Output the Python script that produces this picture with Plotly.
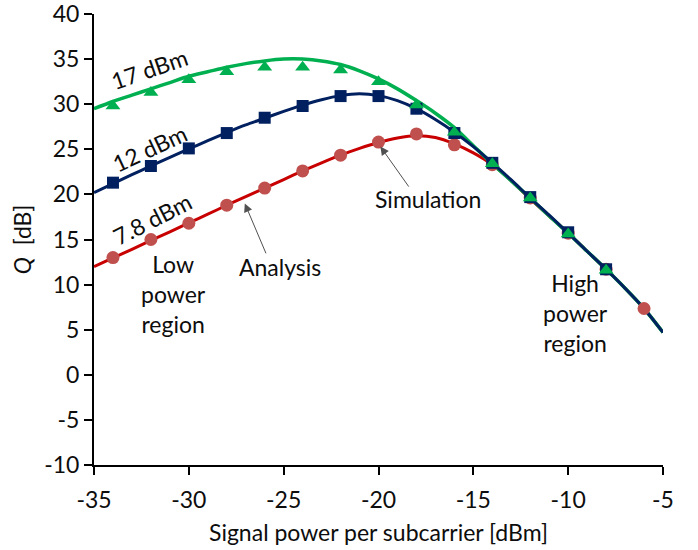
import plotly.graph_objects as go

# ---- data ----
x_analysis = [-35, -34, -33, -32, -31, -30, -29, -28, -27, -26, -25, -24, -23, -22, -21,
              -20, -19, -18, -17, -16, -15, -14, -13, -12, -11, -10, -9, -8, -7, -6, -5]
q_analysis_17 = [29.5, 30.3, 31.0, 31.7, 32.4, 33.1, 33.6, 34.1, 34.5, 34.8, 35.0, 35.0, 34.8, 34.4, 33.7,
                 32.8, 31.7, 30.4, 29.0, 27.4, 25.4, 23.4, 21.5, 19.6, 17.6, 15.7, 13.7, 11.7, 9.6, 7.35, 4.7]
q_analysis_12 = [20.2, 21.2, 22.2, 23.15, 24.1, 25.05, 25.95, 26.85, 27.7, 28.45, 29.2, 29.9, 30.5, 30.95, 31.15,
                 30.95, 30.4, 29.5, 28.3, 26.9, 25.3, 23.5, 21.6, 19.6, 17.7, 15.7, 13.7, 11.7, 9.6, 7.35, 4.7]
q_analysis_78 = [12.0, 12.95, 13.9, 14.9, 15.85, 16.85, 17.8, 18.8, 19.75, 20.7, 21.65, 22.6, 23.5, 24.35, 25.1,
                 25.75, 26.25, 26.5, 26.3, 25.6, 24.6, 23.3, 21.5, 19.5, 17.6, 15.7, 13.7, 11.7, 9.6, 7.35, 4.7]

x_sim = [-34, -32, -30, -28, -26, -24, -22, -20, -18, -16, -14, -12, -10, -8]
q_sim_17 = [29.8, 31.3, 32.7, 33.6, 34.1, 34.1, 33.8, 32.5, 29.9, 26.9, 23.4, 19.6, 15.6, 11.6]
q_sim_12 = [21.3, 23.15, 25.1, 26.8, 28.5, 29.8, 30.9, 30.9, 29.5, 26.8, 23.5, 19.7, 15.8, 11.7]
x_sim_78 = [-34, -32, -30, -28, -26, -24, -22, -20, -18, -16, -14, -12, -10, -8, -6]
q_sim_78 = [13.0, 15.0, 16.8, 18.8, 20.7, 22.6, 24.35, 25.8, 26.7, 25.5, 23.3, 19.6, 15.7, 11.7, 7.35]

x_ticks = [-35, -30, -25, -20, -15, -10, -5]
y_ticks = [-10, -5, 0, 5, 10, 15, 20, 25, 30, 35, 40]

GREEN = "#00B050"
NAVY = "#002060"
RED_LINE = "#C80000"
RED_MARK = "#C0504D"
FONT = "Lato"
TXT = "#0d0d0d"
FS = 23

fig = go.Figure()

# analysis curves
fig.add_trace(go.Scatter(x=x_analysis, y=q_analysis_78, mode="lines",
                         line=dict(color=RED_LINE, width=3, shape="spline", smoothing=0.8), showlegend=False))
fig.add_trace(go.Scatter(x=x_analysis, y=q_analysis_17, mode="lines",
                         line=dict(color=GREEN, width=3.5, shape="spline", smoothing=0.8), showlegend=False))
fig.add_trace(go.Scatter(x=x_analysis, y=q_analysis_12, mode="lines",
                         line=dict(color=NAVY, width=3, shape="spline", smoothing=0.8), showlegend=False))

# simulation markers
fig.add_trace(go.Scatter(x=x_sim_78, y=q_sim_78, mode="markers",
                         marker=dict(symbol="circle", size=13, color=RED_MARK), showlegend=False))
fig.add_trace(go.Scatter(x=x_sim, y=q_sim_12, mode="markers",
                         marker=dict(symbol="square", size=12, color=NAVY), showlegend=False))
fig.add_trace(go.Scatter(x=x_sim, y=q_sim_17, mode="markers",
                         marker=dict(symbol="triangle-up", size=13, color=GREEN), showlegend=False))

ann_font = dict(family=FONT, size=FS, color=TXT)
annotations = [
    dict(x=-32.1, y=33.9, text="17 dBm", textangle=-19, showarrow=False, font=ann_font),
    dict(x=-32.05, y=25.2, text="12 dBm", textangle=-25, showarrow=False, font=ann_font),
    dict(x=-31.95, y=17.3, text="7.8 dBm", textangle=-27, showarrow=False, font=ann_font),
    dict(x=-30.8, y=9.0, text="Low<br>power<br>region", showarrow=False, font=ann_font),
    dict(x=-9.6, y=6.8, text="High<br>power<br>region", showarrow=False, font=ann_font),
    dict(x=-25.2, y=12.0, text="Analysis", showarrow=False, font=ann_font),
    dict(x=-17.4, y=19.5, text="Simulation", showarrow=False, font=ann_font),
    # arrows
    dict(x=-27.05, y=19.0, ax=-25.9, ay=13.3, axref="x", ayref="y", text="",
         showarrow=True, arrowhead=2, arrowsize=1.7, arrowwidth=1, arrowcolor="#505050"),
    dict(x=-19.9, y=25.3, ax=-18.35, ay=20.7, axref="x", ayref="y", text="",
         showarrow=True, arrowhead=2, arrowsize=1.7, arrowwidth=1, arrowcolor="#505050"),
]

fig.update_layout(
    width=698, height=550,
    margin=dict(l=94, r=35, t=14, b=85, autoexpand=False),
    paper_bgcolor="white", plot_bgcolor="white",
    font=dict(family=FONT, size=FS, color=TXT),
    annotations=annotations,
    showlegend=False,
)
fig.update_xaxes(range=[-35, -5], tickvals=x_ticks, ticktext=[str(v) for v in x_ticks],
                 automargin=False,
                 showgrid=False, zeroline=False, showline=True, linecolor="black", linewidth=2,
                 ticks="outside", ticklen=8, tickwidth=2, tickcolor="black",
                 ticklabelstandoff=5, ticklabeloverflow="allow",
                 tickfont=dict(family=FONT, size=FS, color=TXT),
                 title=dict(text="Signal power per subcarrier [dBm]", standoff=13,
                            font=dict(family=FONT, size=FS, color=TXT)))
fig.update_yaxes(range=[-10, 40], tickvals=y_ticks, ticktext=[str(v) for v in y_ticks],
                 automargin=False,
                 showgrid=False, zeroline=False, showline=True, linecolor="black", linewidth=2,
                 ticks="outside", ticklen=8, tickwidth=2, tickcolor="black",
                 ticklabeloverflow="allow",
                 tickfont=dict(family=FONT, size=FS, color=TXT),
                 title=dict(text="<i>Q</i>  [dB]", standoff=6,
                            font=dict(family=FONT, size=FS, color=TXT)))

fig.write_html("out.html")
